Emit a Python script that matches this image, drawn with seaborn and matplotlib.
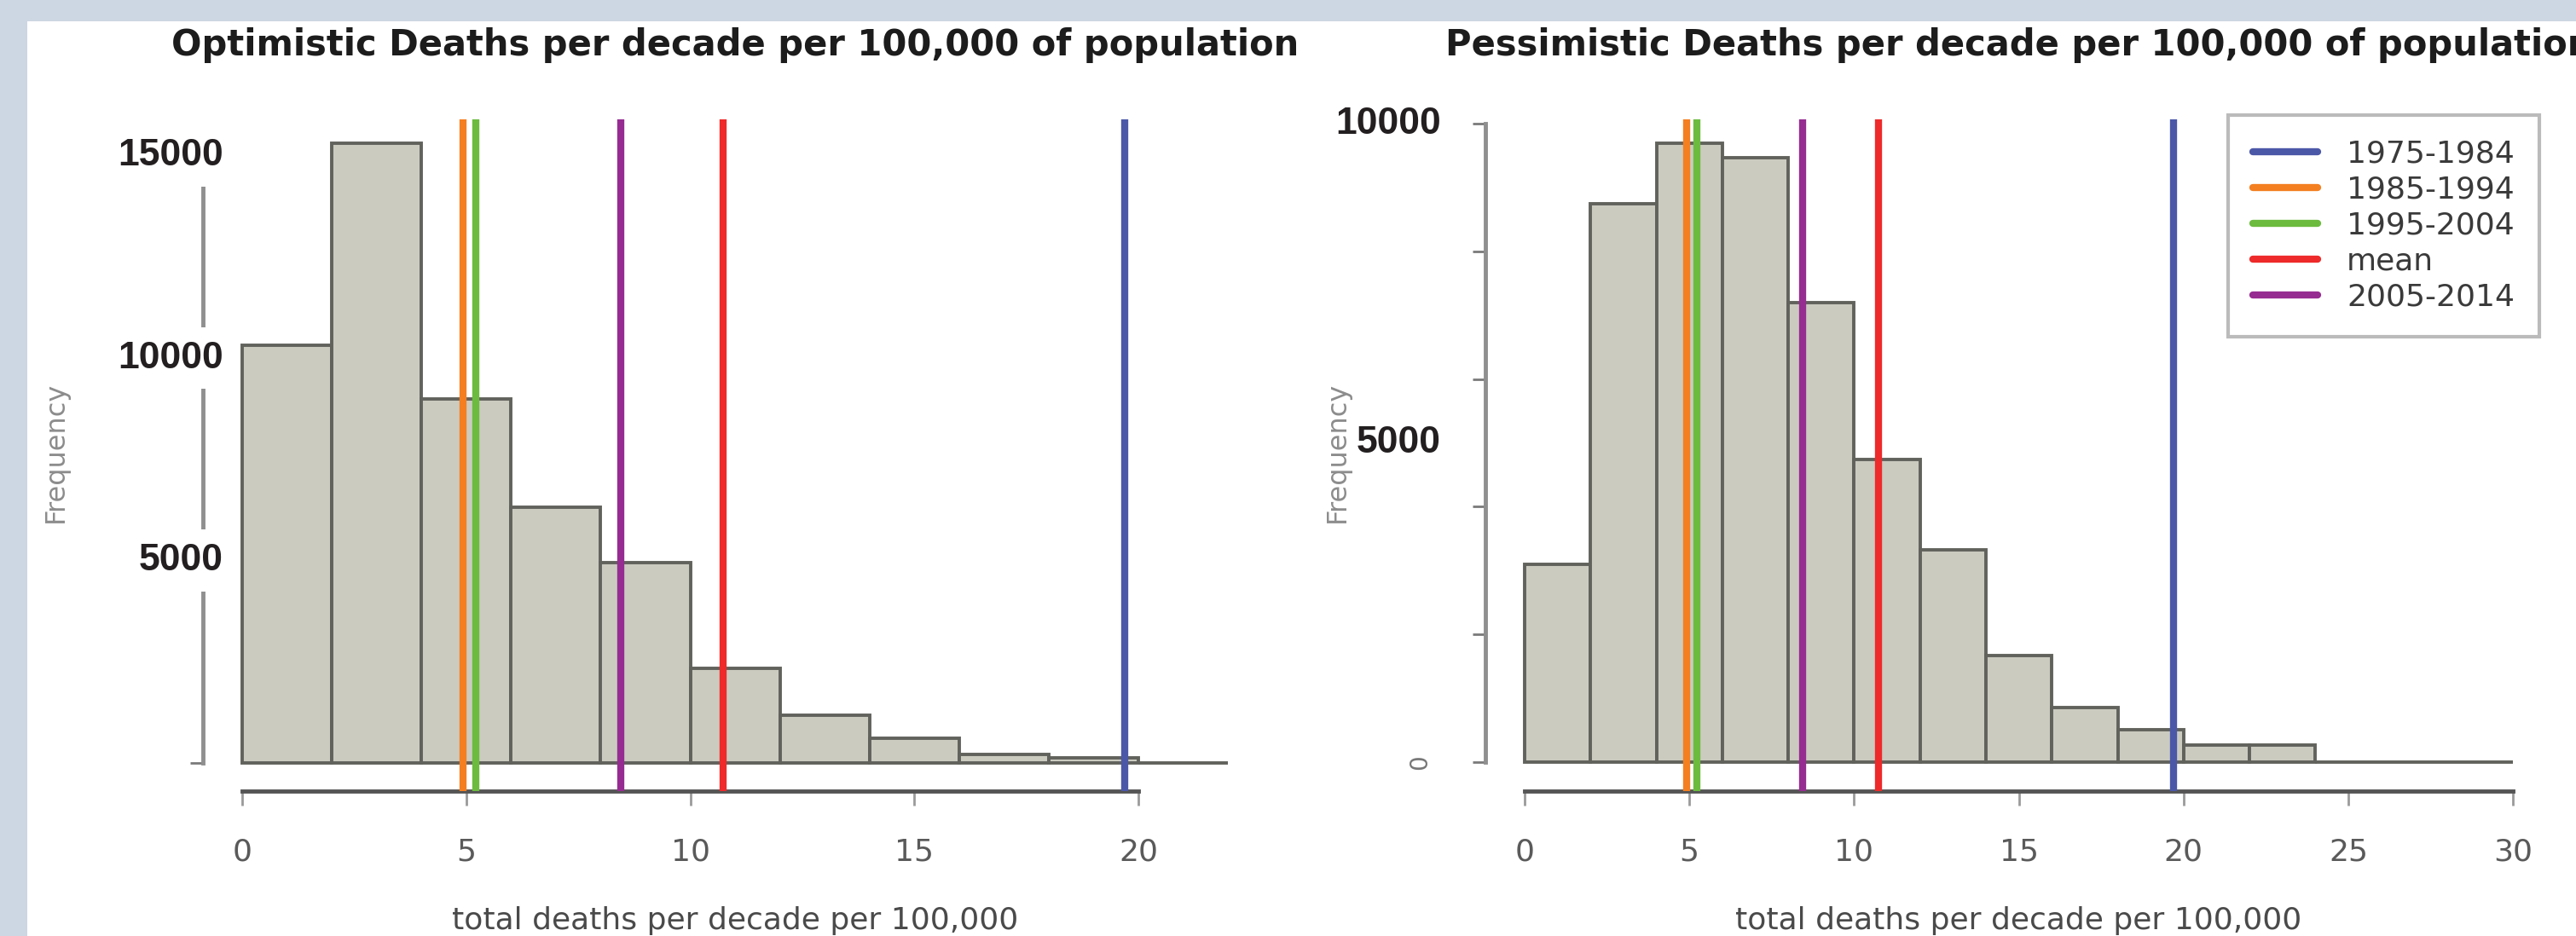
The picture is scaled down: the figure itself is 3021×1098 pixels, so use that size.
import numpy as np
import pandas as pd
import matplotlib
matplotlib.use("Agg")
import matplotlib.pyplot as plt
import seaborn as sns
from matplotlib.patches import Rectangle

# Histogram data (bin width 2, counts per bin)
opt_edges = [0, 2, 4, 6, 8, 10, 12, 14, 16, 18, 20, 22]
opt_counts = [10320, 15300, 8990, 6320, 4950, 2330, 1180, 610, 220, 125, 0]

pes_edges = [0, 2, 4, 6, 8, 10, 12, 14, 16, 18, 20, 22, 24, 26, 28, 30]
pes_counts = [3100, 8740, 9690, 9460, 7200, 4740, 3330, 1670, 860, 510, 270, 270, 0, 0, 0]

# Reference lines (deaths per decade per 100,000)
periods = ["1975-1984", "1985-1994", "1995-2004", "mean", "2005-2014"]
period_values = [19.7, 4.93, 5.22, 10.74, 8.45]
period_colors = ["#4b58a8", "#f47f20", "#6cbb3f", "#ee2a2a", "#962c91"]

opt_xticks = [0, 5, 10, 15, 20]
pes_xticks = [0, 5, 10, 15, 20, 25, 30]
opt_yticks = [0, 5000, 10000, 15000]
pes_yticks = [0, 2000, 4000, 6000, 8000, 10000]
opt_ylabels = [5000, 10000, 15000]
pes_ylabels = [5000, 10000]

W, H = 3021, 1098
sns.set_style("white")
plt.rcParams['font.family'] = ['DejaVu Sans']

fig = plt.figure(figsize=(W / 100, H / 100), dpi=100)
fig.patch.set_facecolor('#cdd6e3')
fig.add_artist(Rectangle((32 / W, 0), 1 - 32 / W, 1 - 25 / H, transform=fig.transFigure,
                         facecolor='white', edgecolor='none', zorder=-1))

bar_face = '#cbcbc0'
bar_edge = '#62625d'


def draw_panel(rect, edges, counts, xlim, ylim, xticks, yticks, ylabels, title, label_dx, boxed):
    ax = fig.add_axes(rect)
    ax.set_facecolor('none')
    sns.histplot(x=edges[:-1], weights=counts, bins=edges, ax=ax, stat='count',
                 color=bar_face, edgecolor=bar_edge, linewidth=2.8, alpha=1)
    for name, val, col in zip(periods, period_values, period_colors):
        ax.axvline(val, color=col, lw=6, label=name, zorder=3)
    ax.set_xlim(xlim)
    ax.set_ylim(ylim)

    ax.spines[['top', 'right']].set_visible(False)
    ax.spines['bottom'].set_bounds(xticks[0], xticks[-1])
    ax.spines['bottom'].set_color('#555555')
    ax.spines['bottom'].set_linewidth(3.5)
    ax.spines['left'].set_bounds(yticks[0], yticks[-1])
    ax.spines['left'].set_color('#8f8f8f')
    ax.spines['left'].set_linewidth(3.5)

    ax.set_xticks(xticks)
    ax.set_yticks(yticks)
    ax.tick_params(axis='x', bottom=True, direction='out', length=12, width=2, color='#9a9a9a',
                   pad=27, labelsize=26, labelcolor='#5a5a5a')
    ax.tick_params(axis='y', left=True, direction='out', length=11, width=2, color='#7a7a7a',
                   labelleft=False)

    for v in ylabels:
        kw = dict(boxstyle='square,pad=0.35', fc='white', ec='none') if boxed else None
        ax.annotate(f"{v}", xy=(0, v), xycoords=('axes fraction', 'data'),
                    xytext=(label_dx, 0), textcoords='offset points', ha='right', va='center',
                    fontsize=32, fontweight='bold', color='#231f20',
                    family=['Liberation Sans', 'DejaVu Sans'], bbox=kw, annotation_clip=False, zorder=4)

    ax.set_title(title, fontsize=30, fontweight='bold', color='#1c1c1c', pad=54)
    ax.set_xlabel('total deaths per decade per 100,000', fontsize=26, color='#4a4a4a')
    ax.xaxis.set_label_coords(0.5, -0.171)
    ax.set_ylabel('Frequency', fontsize=23, color='#8c8c8c', va='center')
    ax.yaxis.set_label_coords(-0.1385, 0.505)
    return ax


bottom = (H - 928) / H
height = (928 - 140) / H

ax1 = draw_panel([237.8 / W, bottom, (1486.3 - 237.8) / W, height], opt_edges, opt_counts,
                 (-0.88, 22.88), (-695, 15895), opt_xticks, opt_yticks, opt_ylabels,
                 'Optimistic Deaths per decade per 100,000 of population', 17.3, True)

ax2 = draw_panel([1741.6 / W, bottom, (2993.6 - 1741.6) / W, height], pes_edges, pes_counts,
                 (-1.2, 31.2), (-454, 10067), pes_xticks, pes_yticks, pes_ylabels,
                 'Pessimistic Deaths per decade per 100,000 of population', -37.4, False)

# small rotated zero left over from the original axis
ax2.annotate('0', xy=(0, 0), xycoords=('axes fraction', 'data'), xytext=(-55, 0),
             textcoords='offset points', rotation=90, ha='center', va='center',
             fontsize=20, color='#777777', annotation_clip=False)

leg = ax2.legend(loc='upper left', bbox_to_anchor=(2613 / W, 1 - 135 / H),
                 bbox_transform=fig.transFigure, borderaxespad=0, fontsize=26,
                 frameon=True, fancybox=False, edgecolor='#aaaaaa', borderpad=0.8,
                 labelspacing=0.22, handlelength=2.1, handletextpad=0.95)
leg.get_frame().set_linewidth(3)
for t in leg.get_texts():
    t.set_color('#3a3a3a')

fig.savefig("out.png", dpi=100, facecolor=fig.get_facecolor())
